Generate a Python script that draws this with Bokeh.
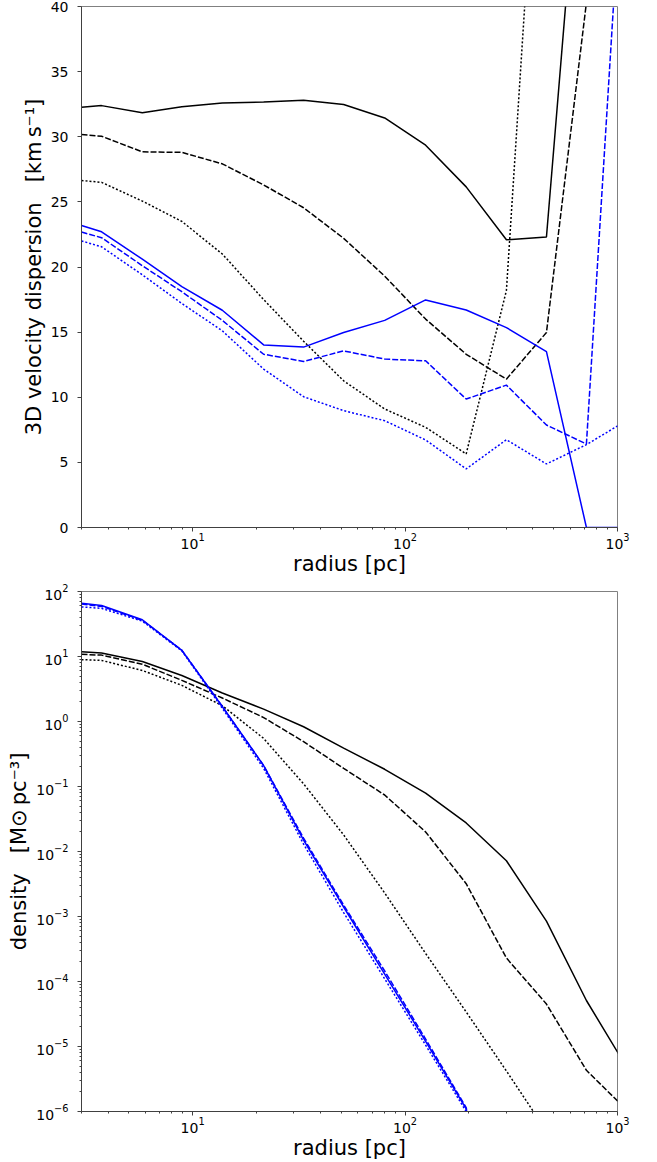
import math
from bokeh.plotting import figure
from bokeh.layouts import column
from bokeh.models import FixedTicker, Range1d
from bokeh.embed import file_html
from bokeh.resources import INLINE

NaN = float("nan")

# radial bins [pc]
radius = [3.0, 3.73, 5.8, 8.9, 13.8, 21.6, 33.3, 51.4, 80.2, 125, 194, 300, 463, 714, 1100]

# 3D velocity dispersion [km/s]
sig_black_solid = [32.26, 32.39, 31.85, 32.3, 32.6, 32.67, 32.8, 32.47, 31.44, 29.35, 26.15, 22.09, 22.3, 59.4, 90.0]
sig_black_dashed = [30.17, 30.04, 28.84, 28.8, 27.92, 26.3, 24.55, 22.2, 19.3, 16.0, 13.3, 11.39, 14.97, 40.3, 70.0]
sig_black_dotted = [26.64, 26.5, 25.06, 23.5, 21.0, 17.5, 14.3, 11.26, 9.1, 7.69, 5.65, 18.2, 66.0, 100.0, 100.0]
sig_blue_solid = [23.19, 22.7, 20.6, 18.5, 16.68, 14.02, 13.85, 14.97, 15.9, 17.47, 16.7, 15.35, 13.5, 0.0, 0.0]
sig_blue_dashed = [22.68, 22.25, 20.1, 18.1, 15.9, 13.3, 12.75, 13.56, 12.93, 12.8, 9.86, 10.93, 7.87, 6.41, 56.0]
sig_blue_dotted = [22.0, 21.55, 19.4, 17.2, 15.1, 12.16, 10.04, 8.97, 8.2, 6.72, 4.5, 6.74, 4.88, 6.36, 8.2]

# density [Msun/pc^3]
rho_black_solid = [11.8, 11.3, 8.4, 5.1, 2.75, 1.55, 0.83, 0.39, 0.184, 0.079, 0.0275, 0.0072, 8.5e-4, 5.1e-5, 4.9e-6]
rho_black_dashed = [10.8, 10.5, 7.6, 4.3, 2.3, 1.15, 0.49, 0.19, 0.074, 0.020, 3.2e-3, 2.3e-4, 4.5e-5, 4.3e-6, 1.07e-6]
rho_black_dotted = [8.95, 8.7, 6.1, 3.6, 1.75, 0.55, 0.11, 0.018, 2.3e-3, 2.7e-4, 3.4e-5, 4.2e-6, 5e-7, NaN, NaN]
rho_blue_solid = [66.0, 61.0, 36.8, 12.4, 1.7, 0.21, 0.015, 1.4e-3, 1.3e-4, 1.2e-5, 1.1e-6, 1e-9, NaN, NaN, NaN]
rho_blue_dashed = [64.0, 59.0, 36.0, 12.5, 1.7, 0.21, 0.016, 1.5e-3, 1.45e-4, 1.3e-5, 1.15e-6, 1e-9, NaN, NaN, NaN]
rho_blue_dotted = [58.0, 55.0, 35.0, 12.2, 1.6, 0.19, 0.013, 1.15e-3, 1.1e-4, 1.05e-5, 1.0e-6, 1e-9, NaN, NaN, NaN]

x_major = [10, 100, 1000]
x_minor = [3, 4, 5, 6, 7, 8, 9, 20, 30, 40, 50, 60, 70, 80, 90, 200, 300, 400, 500, 600, 700, 800, 900]
sig_ticks = [0, 5, 10, 15, 20, 25, 30, 35, 40]
rho_major = [1e-6, 1e-5, 1e-4, 1e-3, 1e-2, 1e-1, 1e0, 1e1, 1e2]
rho_minor = [m * 10.0 ** e for e in range(-6, 2) for m in range(2, 10)]

FONT = "DejaVu Sans"
styles = {"solid": "solid", "dashed": "6 2", "dotted": "2 2"}
SP = "\u00a0\u00a0\u00a0"


def style(p):
    p.toolbar_location = None
    p.background_fill_color = "white"
    p.border_fill_color = "white"
    p.outline_line_color = "#808080"
    p.outline_line_width = 1
    p.xgrid.visible = False
    p.ygrid.visible = False
    for ax in (p.xaxis[0], p.yaxis[0]):
        ax.axis_line_color = "#404040"
        ax.major_tick_line_color = "#404040"
        ax.minor_tick_line_color = "#404040"
        ax.major_tick_in = 0
        ax.major_tick_out = 4
        ax.minor_tick_in = 0
        ax.minor_tick_out = 2
        ax.major_label_text_font = FONT
        ax.major_label_text_font_size = "14px"
        ax.major_label_text_color = "black"
        ax.axis_label_text_font = FONT
        ax.axis_label_text_font_size = "21px"
        ax.axis_label_text_font_style = "normal"
        ax.axis_label_text_color = "black"
    p.yaxis.major_label_standoff = 9
    p.yaxis.axis_label_standoff = 2
    p.xaxis.major_label_standoff = 1
    p.xaxis.axis_label_standoff = 0


p1 = figure(width=657, height=580, x_axis_type="log",
            x_range=Range1d(3, 1000), y_range=Range1d(0, 40),
            output_backend="svg", toolbar_location=None,
            min_border_left=81, min_border_right=40, min_border_top=6, min_border_bottom=53)
style(p1)
p1.xaxis.ticker = FixedTicker(ticks=x_major, minor_ticks=x_minor)
p1.yaxis.ticker = FixedTicker(ticks=sig_ticks, minor_ticks=[])
p1.xaxis.axis_label = "radius [pc]"
p1.yaxis.axis_label = "3D velocity dispersion" + SP + "[km\u2009s\u207b\u00b9]"

for ys, color, dash in [
    (sig_black_solid, "black", "solid"), (sig_black_dashed, "black", "dashed"),
    (sig_black_dotted, "black", "dotted"), (sig_blue_solid, "blue", "solid"),
    (sig_blue_dashed, "blue", "dashed"), (sig_blue_dotted, "blue", "dotted")]:
    p1.line(radius, ys, line_color=color, line_width=1.5, line_dash=styles[dash])

p2 = figure(width=657, height=582, x_axis_type="log", y_axis_type="log",
            x_range=Range1d(3, 1000), y_range=Range1d(1e-6, 1e2),
            output_backend="svg", toolbar_location=None,
            min_border_left=81, min_border_right=40, min_border_top=11, min_border_bottom=49)
style(p2)
p2.xaxis.ticker = FixedTicker(ticks=x_major, minor_ticks=x_minor)
p2.yaxis.ticker = FixedTicker(ticks=rho_major, minor_ticks=rho_minor)
p2.xaxis.axis_label = "radius [pc]"
p2.yaxis.axis_label = "density" + SP + "[M\u2299\u2009pc\u207b\u00b3]"

for ys, color, dash in [
    (rho_black_solid, "black", "solid"), (rho_black_dashed, "black", "dashed"),
    (rho_black_dotted, "black", "dotted"), (rho_blue_solid, "blue", "solid"),
    (rho_blue_dashed, "blue", "dashed"), (rho_blue_dotted, "blue", "dotted")]:
    p2.line(radius, ys, line_color=color, line_width=1.5, line_dash=styles[dash])

layout = column(p1, p2, spacing=0)
open("out.html", "w").write(file_html(layout, INLINE))
